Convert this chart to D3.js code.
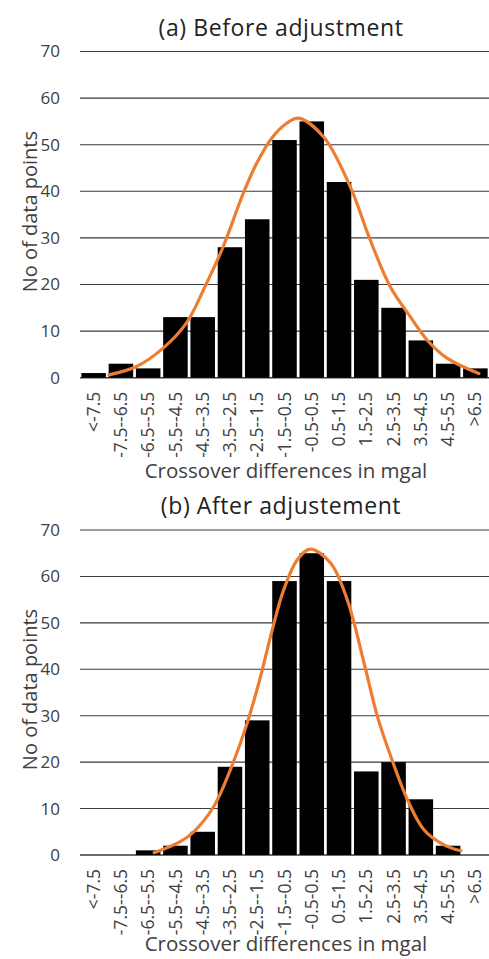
<!DOCTYPE html>
<html>
<head>
<meta charset="utf-8">
<script src="https://cdn.jsdelivr.net/npm/d3@7"></script>
<style>
body { margin: 0; background: #fff; }
text { font-family: "Open Sans", sans-serif; }
</style>
</head>
<body>
<div id="chart"></div>
<script>
var categories = ["<-7.5", "-7.5--6.5", "-6.5--5.5", "-5.5--4.5", "-4.5--3.5", "-3.5--2.5", "-2.5--1.5",
    "-1.5--0.5", "-0.5-0.5", "0.5-1.5", "1.5-2.5", "2.5-3.5", "3.5-4.5", "4.5-5.5", ">6.5"];
var yTicks = [0, 10, 20, 30, 40, 50, 60, 70];

var beforeCounts = [1, 3, 2, 13, 13, 28, 34, 51, 55, 42, 21, 15, 8, 3, 2];
var afterCounts = [0, 0, 1, 2, 5, 19, 29, 59, 65, 59, 18, 20, 12, 2, 0];

// fitted curves: position along the category axis (0 = left edge, 1 = one bin), value
var beforeCurvePos = [1.06, 2.07, 3.04, 3.90, 4.58, 5.25, 5.99, 6.48, 7.03, 7.58, 8.01, 8.93, 9.91, 10.64, 11.38, 12.11, 12.73, 13.46, 14.63];
var beforeCurveVal = [0.6, 2.4, 6.3, 11.7, 19.5, 28.1, 39.6, 46, 51.4, 54.6, 55.7, 51.7, 41, 29.6, 19.5, 13.1, 8.1, 4.2, 0.9];
var afterCurvePos = [2.72, 3.68, 4.17, 4.90, 5.51, 6.13, 6.62, 7.05, 7.47, 7.97, 8.44, 9.19, 9.80, 10.42, 10.91, 11.40, 12.01, 12.62, 13.35, 13.97];
var afterCurveVal = [0.5, 2.9, 5.0, 10.4, 18.3, 28.4, 38.4, 48.5, 57.1, 63.6, 65.9, 62.9, 55, 41.3, 29.8, 21.2, 11.9, 5.4, 2.2, 0.9];

var W = 489, H = 959;
var svg = d3.select("#chart").append("svg")
    .attr("width", W)
    .attr("height", H);

function drawPanel(title, counts, curvePos, curveVal, top, bottom, xTitleGap)
{
    var left = 80, right = 489;
    var g = svg.append("g");

    var x = d3.scaleBand().domain(categories).range([left, right]).paddingInner(0.1).paddingOuter(0.05);
    var xu = d3.scaleLinear().domain([0, categories.length]).range([left, right]);
    var y = d3.scaleLinear().domain([0, 70]).range([bottom, top]);

    // gridlines
    g.selectAll("line.grid").data(yTicks).enter().append("line")
        .attr("x1", left).attr("x2", right)
        .attr("y1", function(d){ return y(d); })
        .attr("y2", function(d){ return y(d); })
        .attr("stroke", "#3a3a3a")
        .attr("stroke-width", function(d){ return d == 0 ? 1.6 : 1.1; });

    var yAxis = g.append("g")
        .attr("transform", "translate(" + (left - 20) + ",0)")
        .call(d3.axisLeft(y).tickValues(yTicks).tickSize(0).tickPadding(0));
    yAxis.select(".domain").remove();
    yAxis.selectAll("text").attr("font-size", 17).attr("fill", "#404040").attr("font-family", "Open Sans");

    g.selectAll("rect.bar").data(counts).enter().append("rect")
        .attr("x", function(d, i){ return x(categories[i]); })
        .attr("width", x.bandwidth())
        .attr("y", function(d){ return y(d); })
        .attr("height", function(d){ return y(0) - y(d); })
        .attr("fill", "#000");

    var pts = curvePos.map(function(p, i){ return [p, curveVal[i]]; });
    var line = d3.line()
        .x(function(d){ return xu(d[0]); })
        .y(function(d){ return y(d[1]); })
        .curve(d3.curveCatmullRom);
    g.append("path").datum(pts)
        .attr("d", line)
        .attr("fill", "none")
        .attr("stroke", "#ED7D31")
        .attr("stroke-width", 3.2)
        .attr("stroke-linecap", "round");

    // x tick labels, rotated
    var xAxis = g.append("g")
        .attr("transform", "translate(0," + (bottom + 14) + ")")
        .call(d3.axisBottom(x).tickSize(0).tickPadding(0));
    xAxis.select(".domain").remove();
    xAxis.selectAll("text")
        .attr("transform", "rotate(-90)")
        .attr("x", 0).attr("y", 0).attr("dy", "0.35em")
        .attr("text-anchor", "end")
        .attr("font-size", 17.5).attr("fill", "#404040").attr("font-family", "Open Sans");

    g.append("text")
        .attr("x", 286).attr("y", bottom + xTitleGap)
        .attr("text-anchor", "middle")
        .attr("font-size", 20.5).attr("fill", "#404040")
        .text("Crossover differences in mgal");

    g.append("text")
        .attr("transform", "translate(37," + ((top + bottom) / 2 - 3) + ") rotate(-90)")
        .attr("text-anchor", "middle")
        .attr("font-size", 20).attr("fill", "#404040")
        .text("No of data points");

    g.append("text")
        .attr("x", 281).attr("y", top - 16)
        .attr("text-anchor", "middle")
        .attr("font-size", 23).attr("fill", "#222")
        .attr("letter-spacing", 0.6)
        .text(title);
}

drawPanel("(a) Before adjustment", beforeCounts, beforeCurvePos, beforeCurveVal, 51.5, 377.7, 100);
drawPanel("(b) After adjustement", afterCounts, afterCurvePos, afterCurveVal, 530, 855, 96);
</script>
</body>
</html>
